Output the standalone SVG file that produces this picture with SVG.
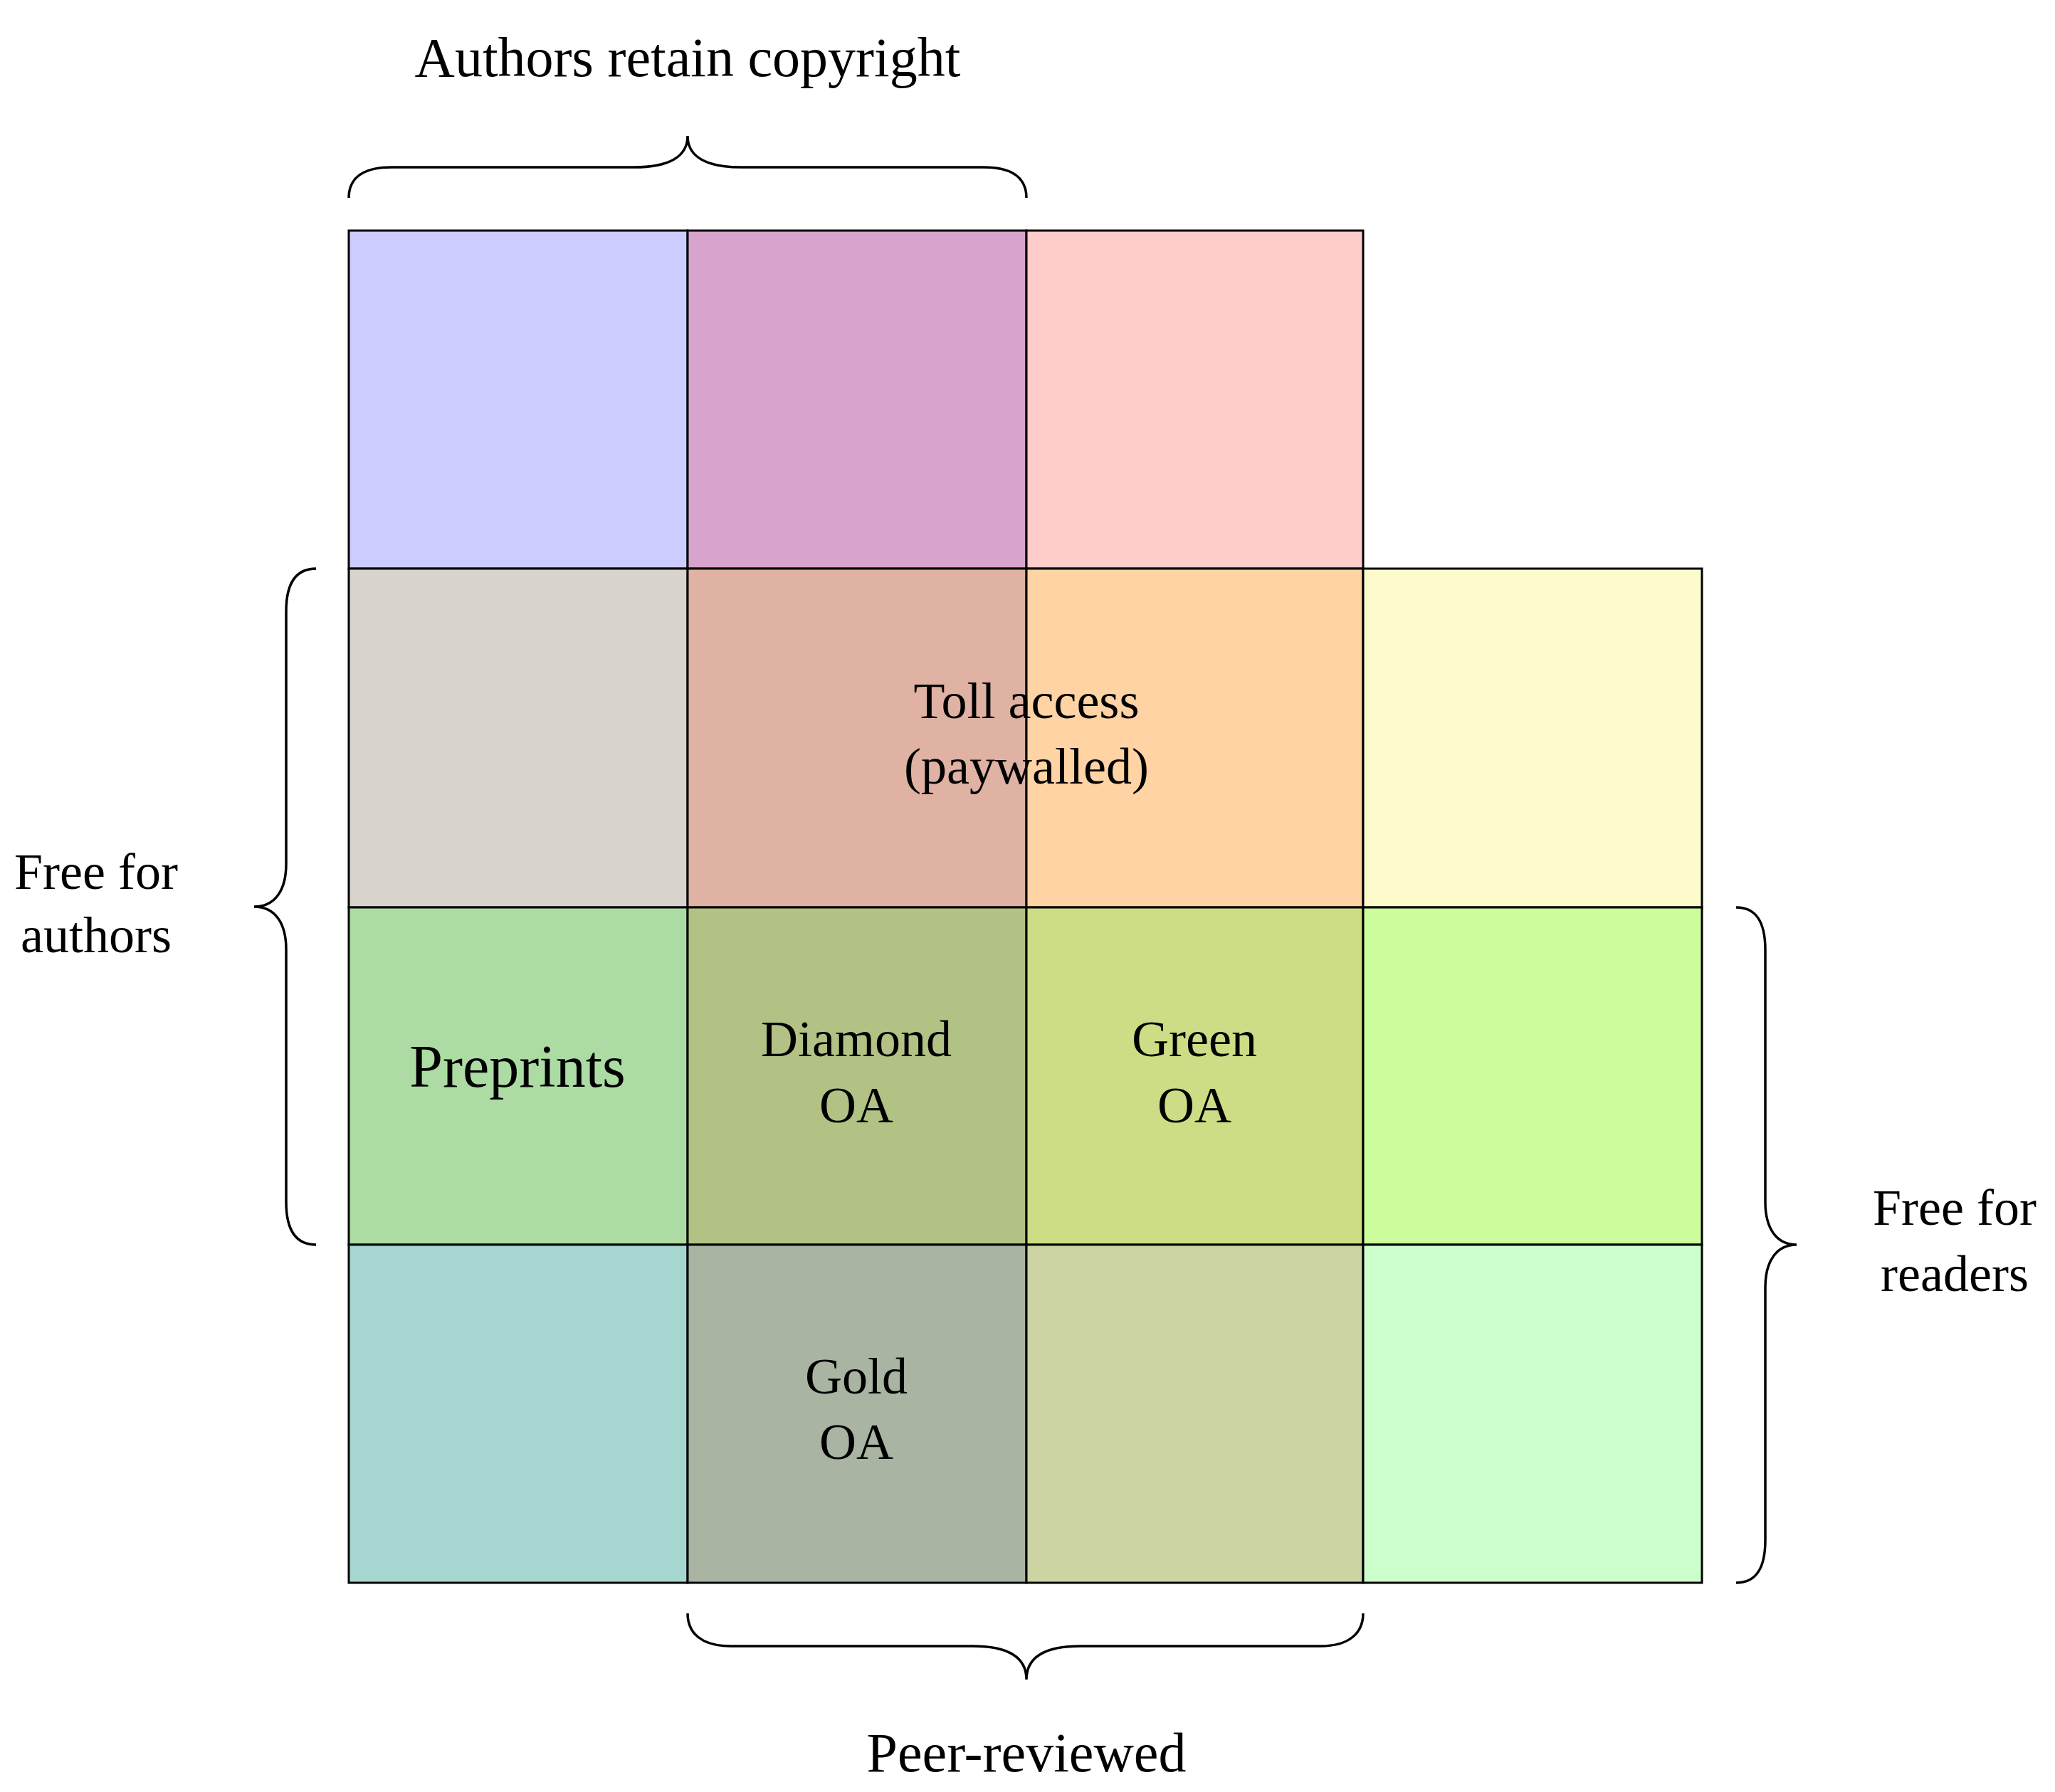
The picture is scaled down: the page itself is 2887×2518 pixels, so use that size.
<svg xmlns="http://www.w3.org/2000/svg" width="2887" height="2518" viewBox="0 0 2887 2518">
<style>
.c{stroke:#000;stroke-width:3}
.b{fill:none;stroke:#000;stroke-width:3.5}
text{font-family:"Liberation Serif","DejaVu Serif",serif;font-size:72px;text-anchor:middle;fill:#000}
</style>
<rect width="2887" height="2518" fill="#fff"/>
<g id="cells">
<rect id="r0c0" class="c" x="490" y="324" width="476" height="475" fill="#ccccff"/>
<rect id="r0c1" class="c" x="966" y="324" width="476" height="475" fill="#d8a3cc"/>
<rect id="r0c2" class="c" x="1442" y="324" width="473" height="475" fill="#ffcccc"/>
<rect id="r1c0" class="c" x="490" y="799" width="476" height="476" fill="#d8d3cc"/>
<rect id="r1c1" class="c" x="966" y="799" width="476" height="476" fill="#dfb2a3"/>
<rect id="r1c2" class="c" x="1442" y="799" width="473" height="476" fill="#ffd3a3"/>
<rect id="r1c3" class="c" x="1915" y="799" width="476" height="476" fill="#fdfacc"/>
<rect id="r2c0" class="c" x="490" y="1275" width="476" height="474" fill="#acdca3"/>
<rect id="r2c1" class="c" x="966" y="1275" width="476" height="474" fill="#b2c285"/>
<rect id="r2c2" class="c" x="1442" y="1275" width="473" height="474" fill="#cddd85"/>
<rect id="r2c3" class="c" x="1915" y="1275" width="476" height="474" fill="#ccfd9c"/>
<rect id="r3c0" class="c" x="490" y="1749" width="476" height="475" fill="#a5d7d0"/>
<rect id="r3c1" class="c" x="966" y="1749" width="476" height="475" fill="#a9b4a3"/>
<rect id="r3c2" class="c" x="1442" y="1749" width="473" height="475" fill="#cdd4a3"/>
<rect id="r3c3" class="c" x="1915" y="1749" width="476" height="475" fill="#ccffcc"/>
</g>
<g id="labels">
<text x="1442" y="1009">Toll access</text>
<text x="1442" y="1101">(paywalled)</text>
<text x="727" y="1527" style="font-size:84px">Preprints</text>
<text x="1203" y="1484">Diamond</text>
<text x="1203" y="1577">OA</text>
<text x="1678" y="1484">Green</text>
<text x="1678" y="1577">OA</text>
<text x="1203" y="1958">Gold</text>
<text x="1203" y="2050">OA</text>
</g>
<g id="braces">
<path class="b" d="M490,278 C490,250 510,235 550,235 L890,235 C940,235 966,220 966,191 C966,220 992,235 1042,235 L1382,235 C1422,235 1442,250 1442,278"/>
<path class="b" d="M966,2267 C966,2295 986,2313 1026,2313 L1366,2313 C1416,2313 1442,2328 1442,2360 C1442,2328 1468,2313 1518,2313 L1855,2313 C1895,2313 1915,2295 1915,2267"/>
<path class="b" d="M444,799 C416,799 402,819 402,859 L402,1214 C402,1250 387,1274 357,1274 C387,1274 402,1298 402,1334 L402,1689 C402,1729 416,1749 444,1749"/>
<path class="b" d="M2439,1275 C2467,1275 2480,1295 2480,1335 L2480,1689 C2480,1725 2495,1749 2524,1749 C2495,1749 2480,1773 2480,1809 L2480,2164 C2480,2204 2467,2224 2439,2224"/>
</g>
<g id="brace-labels">
<text x="966" y="107" style="font-size:78px">Authors retain copyright</text>
<text x="1442" y="2489" style="font-size:78px">Peer-reviewed</text>
<text x="135" y="1249">Free for</text>
<text x="135" y="1338">authors</text>
<text x="2746" y="1721">Free for</text>
<text x="2746" y="1814">readers</text>
</g>
</svg>
